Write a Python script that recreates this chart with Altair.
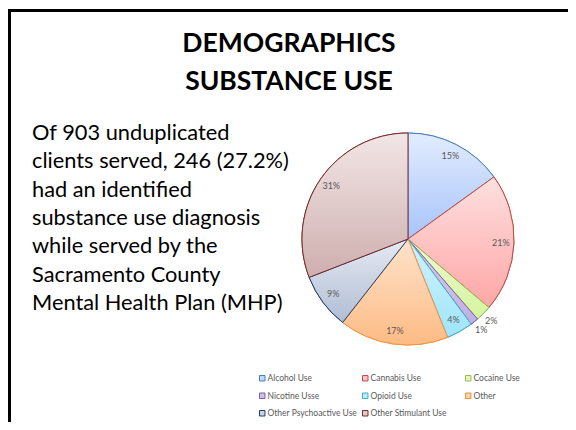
import altair as alt
import pandas as pd

categories = ["Alcohol Use", "Cannabis Use", "Cocaine Use", "Nicotine Usse",
              "Opioid Use", "Other", "Other Psychoactive Use", "Other Stimulant Use"]
counts = [37, 52, 6, 3, 10, 41, 21, 76]
fill_top = ["#e2ecfd", "#fde0df", "#eefad7", "#dcd2ee", "#d3f2fc", "#fee3cc", "#e6eaf2", "#f2e6e6"]
fill_bottom = ["#a8c4fb", "#ffa6a6", "#d4f59b", "#c0aee5", "#9de6fa", "#fdbb84", "#b0bdd4", "#cfaeae"]
stroke_colors = ["#4a7ebb", "#be4b48", "#98b954", "#7d60a0", "#46aac5", "#f69240", "#1f3f6b", "#772c2a"]
legend_fill = ["#c4d7fb", "#fec2c2", "#e0f7b8", "#cebfe9", "#b8ecfb", "#fdcfa8", "#cbd3e3", "#e0c9c9"]

title_lines = ["DEMOGRAPHICS", "SUBSTANCE USE"]
body_lines = ["Of 903 unduplicated", "clients served, 246 (27.2%)", "had an identified",
              "substance use diagnosis", "while served by the", "Sacramento County",
              "Mental Health Plan (MHP)"]

total = sum(counts)
df = pd.DataFrame({"cat": categories, "value": counts, "order": list(range(len(categories)))})

# Vega fills legend columns top-to-bottom; reorder so entries read row by row (3 per row)
n_cols = 3
n_rows = -(-len(categories) // n_cols)
legend_idx = [r * n_cols + c for c in range(n_cols) for r in range(n_rows)
              if r * n_cols + c < len(categories)]
legend_domain = [categories[i] for i in legend_idx]
legend_fill_range = [legend_fill[i] for i in legend_idx]
legend_stroke_range = [stroke_colors[i] for i in legend_idx]

W, H = 560, 414
CX, CY, R = 400, 231, 106
FONT = "Lato"

base = alt.Chart(df).transform_window(
    cum="sum(value)", sort=[alt.SortField("order")], frame=[None, 0]
).transform_calculate(
    start="datum.cum - datum.value",
    mid="datum.cum - datum.value / 2",
    pct="round(datum.value / %d * 100) + '%%'" % total,
    lr="datum.value / %d < 0.03 ? 117 : 93" % total,
)

theta_scale = alt.Scale(domain=[0, total])
legend = alt.Legend(title=None, orient="none", legendX=250, legendY=366, columns=n_cols,
                    symbolType="square", symbolSize=30, labelFontSize=8.5,
                    labelColor="#595959", labelFont=FONT, rowPadding=7.5, columnPadding=3,
                    gridAlign="all", symbolStrokeWidth=1, labelOffset=1)

pie_base = base.mark_arc(radius=R, strokeWidth=1).encode(
    x=alt.value(CX), y=alt.value(CY),
    theta=alt.Theta("start:Q", scale=theta_scale), theta2="cum:Q",
    fill=alt.Fill("cat:N", scale=alt.Scale(domain=legend_domain, range=legend_fill_range), legend=legend),
    stroke=alt.Stroke("cat:N", scale=alt.Scale(domain=legend_domain, range=legend_stroke_range), legend=legend),
)

grad_layers = []
for c, top, bot, st in zip(categories, fill_top, fill_bottom, stroke_colors):
    grad_layers.append(
        base.transform_filter(alt.datum.cat == c).mark_arc(
            radius=R, stroke=st, strokeWidth=1,
            fill=alt.Gradient(gradient="linear", x1=0, y1=0, x2=0, y2=1,
                              stops=[alt.GradientStop(color=top, offset=0),
                                     alt.GradientStop(color=bot, offset=1)]),
        ).encode(
            x=alt.value(CX), y=alt.value(CY),
            theta=alt.Theta("start:Q", scale=theta_scale), theta2="cum:Q",
        )
    )

labels = base.mark_text(fontSize=9, color="#595959", font=FONT).encode(
    x=alt.value(CX), y=alt.value(CY),
    theta=alt.Theta("mid:Q", scale=theta_scale),
    radius=alt.Radius("lr:Q", scale=None),
    text="pct:N",
)

one = alt.Data(values=[{"k": 1}])
left_rule = alt.Chart(one).mark_rule(color="black", strokeWidth=3).encode(
    x=alt.value(1.5), y=alt.value(1), y2=alt.value(H))
top_rule = alt.Chart(one).mark_rule(color="black", strokeWidth=3).encode(
    x=alt.value(0), x2=alt.value(W), y=alt.value(2.5))

title_text = alt.Chart(one).mark_text(
    text=title_lines, font=FONT, fontWeight="bold", fontSize=26.5, align="center",
    baseline="alphabetic", lineHeight=38, color="black",
).encode(x=alt.value(281), y=alt.value(44))

body_text = alt.Chart(one).mark_text(
    text=body_lines, font=FONT, fontSize=21.8, align="left",
    baseline="alphabetic", lineHeight=28.3, color="black",
).encode(x=alt.value(24), y=alt.value(132))

chart = alt.layer(
    left_rule, top_rule, pie_base, *grad_layers, labels, title_text, body_text
).properties(
    width=W, height=H, padding=0, autosize=alt.AutoSizeParams(type="none"),
    background="white",
).configure_view(stroke=None)

chart.save("out.html", embed_options={"renderer": "svg", "actions": False})
